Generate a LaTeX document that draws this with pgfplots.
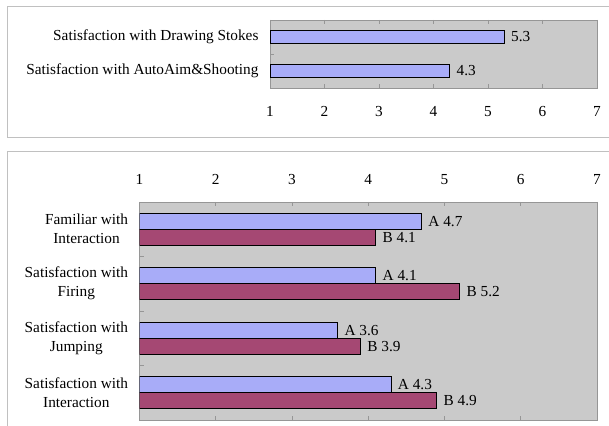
\documentclass[border=0pt]{standalone}
\usepackage{fontspec}
\setmainfont{Liberation Serif}
\usepackage{pgfplots}
\pgfplotsset{compat=1.18}

\definecolor{barA}{RGB}{168,172,248}
\definecolor{barB}{RGB}{165,72,115}
\definecolor{plotbg}{RGB}{202,202,202}
\definecolor{frameline}{RGB}{192,192,192}
\definecolor{axisline}{RGB}{150,150,150}

\pgfplotsset{
  panel/.style={
    scale only axis,
    xbar,
    xmin=1, xmax=7,
    xtick={1,2,3,4,5,6,7},
    xtick pos=both,
    ytick pos=left,
    tick align=inside,
    major tick length=4pt,
    tick style={axisline, line width=0.6pt},
    axis line style={axisline, line width=0.9pt},
    axis background/.style={fill=plotbg},
    /pgf/number format/assume math mode=true,
    yticklabels={},
    extra y tick style={major tick length=0pt,
      yticklabel style={align=center, xshift=-8pt}},
    point meta=x,
    nodes near coords style={font=\fontsize{15.3}{19}\selectfont, text=black, xshift=3pt},
  },
  barstyle/.style={draw=black, line width=1pt},
}

\begin{document}
\begin{tikzpicture}[x=1pt, y=1pt, font=\fontsize{15.3}{19}\selectfont]
\useasboundingbox (0,0) rectangle (609,425);

% panel frames
\draw[frameline, line width=1pt] (615,287) -- (7,287) -- (7,418) -- (615,418);
\draw[frameline, line width=1pt] (615,273) -- (7,273) -- (7,-5);

% upper panel: single series
\begin{axis}[panel,
  at={(270pt,337pt)}, anchor=south west,
  width=327pt, height=68pt,
  ymin=-0.5, ymax=1.5,
  ytick={0.5},
  extra y ticks={0,1},
  extra y tick labels={Satisfaction with AutoAim\&Shooting, Satisfaction with Drawing Stokes},
  xticklabel pos=lower,
  xticklabel style={yshift=-15pt},
  bar width=13pt,
  nodes near coords={\pgfmathprintnumber[fixed,fixed zerofill,precision=1]{\pgfplotspointmeta}},
]
\addplot[barstyle, fill=barA] coordinates {(4.3,0) (5.3,1)};
\end{axis}

% lower panel: series A and B
\begin{axis}[panel,
  at={(139.5pt,5pt)}, anchor=south west,
  width=457.5pt, height=218pt,
  ymin=-0.5, ymax=3.5,
  ytick={0.5,1.5,2.5},
  extra y ticks={0,1,2,3},
  extra y tick labels={{Satisfaction with\\Interaction},{Satisfaction with\\Jumping},{Satisfaction with\\Firing},{Familiar with\\Interaction}},
  xticklabel pos=upper,
  xticklabel style={yshift=14pt},
  bar width=16pt,
]
\addplot[barstyle, fill=barA, bar shift=8pt,
  nodes near coords={A \pgfmathprintnumber[fixed,fixed zerofill,precision=1]{\pgfplotspointmeta}}]
  coordinates {(4.3,0) (3.6,1) (4.1,2) (4.7,3)};
\addplot[barstyle, fill=barB, bar shift=-8pt,
  nodes near coords={B \pgfmathprintnumber[fixed,fixed zerofill,precision=1]{\pgfplotspointmeta}}]
  coordinates {(4.9,0) (3.9,1) (5.2,2) (4.1,3)};
\end{axis}
\end{tikzpicture}
\end{document}
